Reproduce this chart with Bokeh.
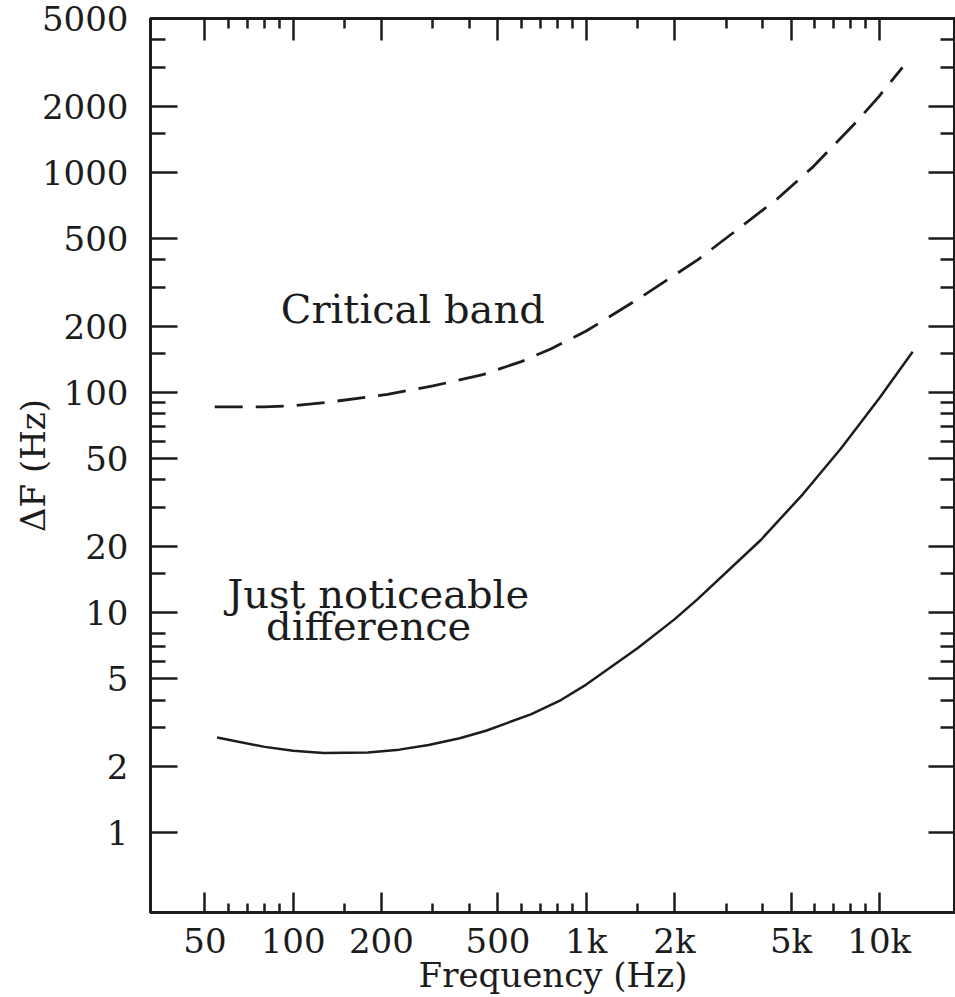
from bokeh.plotting import figure
from bokeh.models import FixedTicker, LogAxis, Range1d, CustomJSTickFormatter
from bokeh.core.properties import value
from bokeh.embed import file_html
from bokeh.resources import INLINE

# ---- data ----
cb_freq = [54, 80, 100, 130, 210, 300, 440, 600, 760, 1000, 1500, 2400, 3400, 4500, 5900, 8300, 10000, 12000]
cb_df = [86, 86, 87, 90, 98, 107, 120, 138, 158, 190, 265, 400, 570, 760, 1050, 1680, 2220, 3000]

jnd_freq = [55, 80, 100, 127, 180, 230, 290, 370, 455, 650, 820, 1000, 1500, 2000, 2400, 3950, 5500, 7400, 10000, 13000]
jnd_df = [2.7, 2.45, 2.35, 2.3, 2.31, 2.38, 2.5, 2.68, 2.9, 3.45, 4.0, 4.7, 6.9, 9.3, 11.5, 21.4, 34.6, 55.6, 94, 153]

x_major = [50, 100, 200, 500, 1000, 2000, 5000, 10000]
x_labels = ["50", "100", "200", "500", "1k", "2k", "5k", "10k"]
x_minor = [60, 70, 80, 90, 150, 300, 400, 600, 700, 800, 900, 1500, 3000, 4000, 6000, 7000, 8000, 9000]

y_major = [1, 2, 5, 10, 20, 50, 100, 200, 500, 1000, 2000, 5000]
y_labels = ["1", "2", "5", "10", "20", "50", "100", "200", "500", "1000", "2000", "5000"]
y_minor = [3, 4, 6, 7, 8, 15, 30, 40, 60, 70, 80, 90, 150, 300, 400, 1500, 3000, 4000]

annot_text = ["Critical band", "Just noticeable", "difference"]
annot_x = [256, 195, 181]
annot_y = [239, 12.15, 8.7]

ink = "#1c1c1c"
FONT = "DejaVu Serif"

FMT_CODE = """
for (let i = 0; i < vals.length; i++) {
  if (Math.abs(vals[i] - tick) <= 1e-6 * vals[i]) return labs[i];
}
return '';
"""

p = figure(width=955, height=997, x_axis_type="log", y_axis_type="log",
           x_range=Range1d(32.6, 18200), y_range=Range1d(0.433, 5000),
           output_backend="svg", toolbar_location=None,
           min_border_left=150, min_border_right=0, min_border_top=18, min_border_bottom=84,
           background_fill_color="white", border_fill_color="white")
p.grid.visible = False
p.outline_line_color = ink
p.outline_line_width = 3


def style(ax, ticks, minor, labels, major_in, minor_in, show):
    ax.ticker = FixedTicker(ticks=ticks, minor_ticks=minor)
    ax.axis_line_width = 3
    ax.axis_line_color = ink
    ax.major_tick_in = major_in
    ax.major_tick_out = 0
    ax.minor_tick_in = minor_in
    ax.minor_tick_out = 0
    ax.major_tick_line_width = 2.5
    ax.minor_tick_line_width = 2.5
    ax.major_tick_line_color = ink
    ax.minor_tick_line_color = ink
    ax.major_label_text_font = FONT
    ax.major_label_text_color = ink
    if show:
        ax.formatter = CustomJSTickFormatter(args=dict(vals=ticks, labs=labels), code=FMT_CODE)
        ax.major_label_text_font_size = "34px"
    else:
        ax.formatter = CustomJSTickFormatter(code="return '';")
        ax.major_label_text_font_size = "1px"
        ax.major_label_standoff = 0


xa = p.xaxis[0]
style(xa, x_major, x_minor, x_labels, 20, 9, True)
xa.major_label_standoff = 8
xa.axis_label = "Frequency (Hz)"
xa.axis_label_text_font = FONT
xa.axis_label_text_font_size = "34px"
xa.axis_label_text_font_style = "normal"
xa.axis_label_text_color = ink
xa.axis_label_standoff = -9

ya = p.yaxis[0]
style(ya, y_major, y_minor, y_labels, 27, 15, True)
ya.major_label_standoff = 22
ya.axis_label = "ΔF (Hz)"
ya.axis_label_text_font = FONT
ya.axis_label_text_font_size = "34px"
ya.axis_label_text_font_style = "normal"
ya.axis_label_text_color = ink
ya.axis_label_standoff = -14

top = LogAxis()
style(top, x_major, x_minor, x_labels, 22, 10, False)
p.add_layout(top, "above")
right = LogAxis()
style(right, y_major, y_minor, y_labels, 27, 15, False)
p.add_layout(right, "right")

p.line(cb_freq, cb_df, line_color=ink, line_width=2.8, line_dash="28 13")
p.line(jnd_freq, jnd_df, line_color=ink, line_width=2.5)

p.text(x=annot_x, y=annot_y, text=annot_text, text_font=value(FONT),
       text_font_size=value("40px"), text_align="center", text_baseline="alphabetic",
       text_color=ink)

open("out.html", "w").write(file_html(p, INLINE))
